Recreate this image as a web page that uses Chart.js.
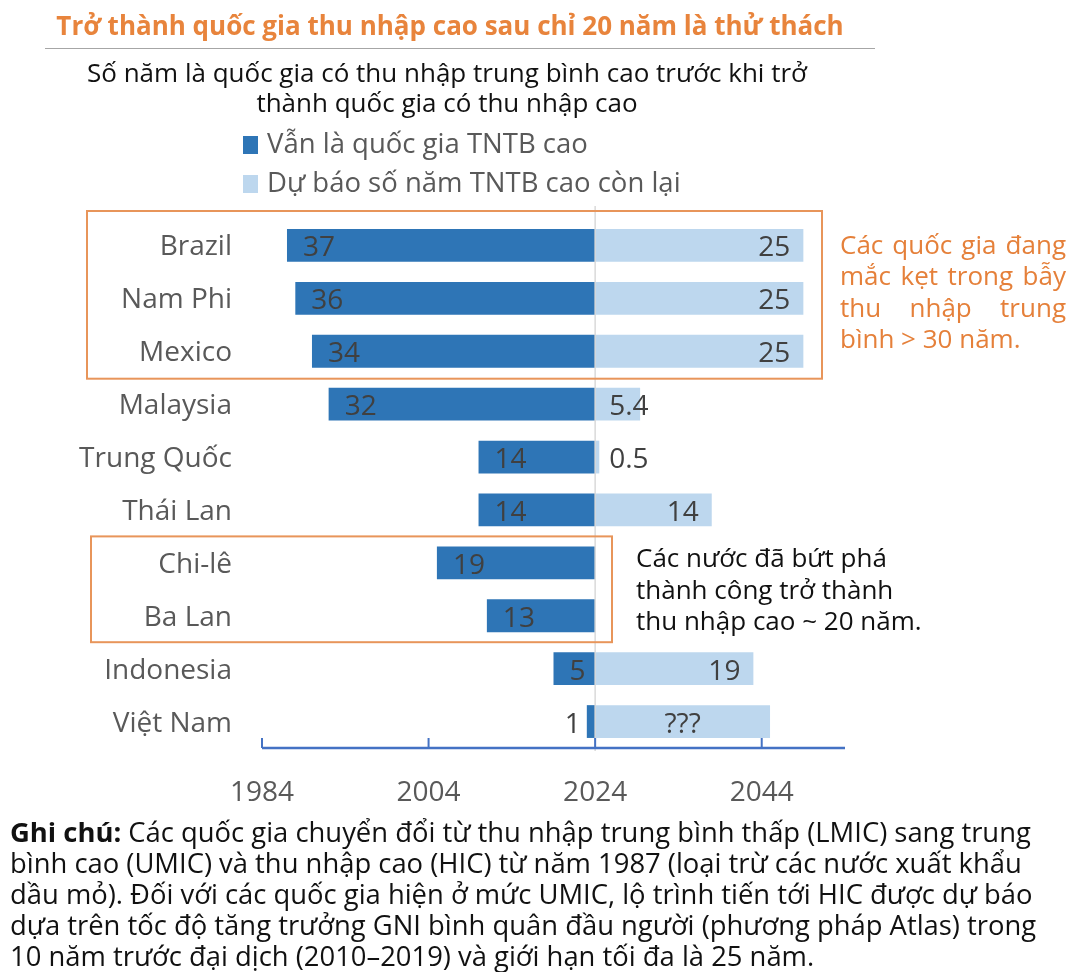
<!DOCTYPE html>
<html>
<head>
<meta charset="utf-8">
<script src="https://cdn.jsdelivr.net/npm/chart.js@4"></script>
<style>
body { margin:0; width:1082px; height:972px; background:#fff; position:relative; overflow:hidden; font-family:"Open Sans", sans-serif; }
#wrap { position:absolute; left:0; top:0; width:1082px; height:972px; }
.txt { position:absolute; white-space:nowrap; pointer-events:none; }
#title { left:0; top:7px; width:900px; text-align:center; font-weight:bold; font-size:26px; color:#E8843C; }
#rule { position:absolute; left:45px; top:48px; width:830px; height:1px; background:#a6a6a6; }
#sub { left:0; top:58px; width:894px; text-align:center; font-size:26px; line-height:29.5px; color:#111; }
#legend { left:243px; top:123px; font-size:27.5px; line-height:39px; color:#595959; }
#legend span.sw { display:inline-block; width:15px; height:18px; margin-right:9px; vertical-align:-1px; }
#ann1 { left:840px; top:229px; width:226px; font-size:26px; line-height:31.3px; color:#E5803A; }
#ann1 div { text-align:justify; text-align-last:justify; }
#ann1 div.last { text-align-last:left; }
#ann2 { left:636px; top:542px; font-size:26px; line-height:31.5px; color:#111; }
#note { left:10px; top:816px; font-size:27.4px; line-height:31px; color:#111; }
</style>
</head>
<body>
<div id="wrap"><canvas id="myChart"></canvas></div>
<div class="txt" id="title">Trở thành quốc gia thu nhập cao sau chỉ 20 năm là thử thách</div>
<div id="rule"></div>
<div class="txt" id="sub">Số năm là quốc gia có thu nhập trung bình cao trước khi trở<br>thành quốc gia có thu nhập cao</div>
<div class="txt" id="legend"></div>
<div class="txt" id="ann1"><div>Các quốc gia đang</div><div>mắc kẹt trong bẫy</div><div>thu nhập trung</div><div class="last">bình &gt; 30 năm.</div></div>
<div class="txt" id="ann2">Các nước đã bứt phá<br>thành công trở thành<br>thu nhập cao ~ 20 năm.</div>
<div class="txt" id="note"><b>Ghi chú:</b> Các quốc gia chuyển đổi từ thu nhập trung bình thấp (LMIC) sang trung<br>bình cao (UMIC) và thu nhập cao (HIC) từ năm 1987 (loại trừ các nước xuất khẩu<br>dầu mỏ). Đối với các quốc gia hiện ở mức UMIC, lộ trình tiến tới HIC được dự báo<br>dựa trên tốc độ tăng trưởng GNI bình quân đầu người (phương pháp Atlas) trong<br>10 năm trước đại dịch (2010–2019) và giới hạn tối đa là 25 năm.</div>
<script>
// data
var countries = ['Brazil', 'Nam Phi', 'Mexico', 'Malaysia', 'Trung Quốc', 'Thái Lan', 'Chi-lê', 'Ba Lan', 'Indonesia', 'Việt Nam']
var yearsUMIC = [37, 36, 34, 32, 14, 14, 19, 13, 5, 1]
var yearsLeft = [25, 25, 25, 5.4, 0.5, 14, 0, 0, 19, 21]
var leftLabels = ['25', '25', '25', '5.4', '0.5', '14', '', '', '19', '???']
var seriesNames = ['Vẫn là quốc gia TNTB cao', 'Dự báo số năm TNTB cao còn lại']
var seriesColors = ['#2E75B6', '#BDD7EE']
var baseYear = 2024
var tickYears = [1984, 2004, 2024, 2044]

var legendDiv = document.getElementById('legend')
legendDiv.innerHTML = seriesNames.map(function(n, i){
  return '<div><span class="sw" style="background:' + seriesColors[i] + '"></span>' + n + '</div>'
}).join('')

var FONT = '"Open Sans", sans-serif'

var decor = {
  id: 'decor',
  afterDatasetsDraw: function(chart){
    var ctx = chart.ctx
    var ca = chart.chartArea
    var x = chart.scales.x
    var row = (ca.bottom - ca.top) / countries.length
    ctx.save()
    // line at 2024
    var x0 = x.getPixelForValue(baseYear)
    ctx.strokeStyle = '#d9d9d9'
    ctx.lineWidth = 1.5
    ctx.beginPath(); ctx.moveTo(x0, ca.top - 13); ctx.lineTo(x0, ca.bottom + 3); ctx.stroke()
    // axis
    ctx.strokeStyle = '#4472C4'
    ctx.lineWidth = 2.5
    ctx.beginPath(); ctx.moveTo(ca.left, ca.bottom); ctx.lineTo(ca.right, ca.bottom); ctx.stroke()
    ctx.lineWidth = 2
    tickYears.forEach(function(t){
      var px = x.getPixelForValue(t)
      ctx.beginPath(); ctx.moveTo(px, ca.bottom - 10); ctx.lineTo(px, ca.bottom); ctx.stroke()
    })
    // labels
    ctx.font = '28px ' + FONT
    ctx.fillStyle = '#404040'
    ctx.textBaseline = 'middle'
    chart.getDatasetMeta(0).data.forEach(function(bar, i){
      var l = Math.min(bar.x, bar.base), r = Math.max(bar.x, bar.base)
      var s = String(yearsUMIC[i])
      var w = ctx.measureText(s).width
      if (r - l > w + 20) { ctx.textAlign = 'left'; ctx.fillText(s, l + 16, bar.y + 3) }
      else { ctx.textAlign = 'right'; ctx.fillText(s, l - 6, bar.y + 3) }
    })
    chart.getDatasetMeta(1).data.forEach(function(bar, i){
      var s = leftLabels[i]
      if (!s) return
      var l = Math.min(bar.x, bar.base), r = Math.max(bar.x, bar.base)
      var w = ctx.measureText(s).width
      if (isNaN(Number(s))) { ctx.textAlign = 'center'; ctx.fillText(s, (l + r) / 2, bar.y + 3) }
      else if (r - l > w + 30) { ctx.textAlign = 'right'; ctx.fillText(s, r - 13, bar.y + 3) }
      else { ctx.textAlign = 'left'; ctx.fillText(s, l + 14, bar.y + 3) }
    })
    // boxes
    ctx.strokeStyle = '#E8955A'
    ctx.lineWidth = 2
    ctx.strokeRect(87, ca.top - 8, 822 - 87, row * 3 + 9)
    ctx.strokeRect(91, ca.top + row * 6, 612 - 91, row * 2)
    ctx.restore()
  }
}

function drawChart(){
  var ctx = document.getElementById('myChart').getContext('2d')
  new Chart(ctx, {
    type: 'bar',
    data: {
      labels: countries,
      datasets: [{
        label: seriesNames[0],
        data: yearsUMIC.map(function(v){ return [baseYear - v, baseYear] }),
        backgroundColor: seriesColors[0],
        grouped: false,
        barPercentage: 0.62,
        categoryPercentage: 1
      }, {
        label: seriesNames[1],
        data: yearsLeft.map(function(v){ return [baseYear, baseYear + v] }),
        backgroundColor: seriesColors[1],
        grouped: false,
        barPercentage: 0.62,
        categoryPercentage: 1
      }]
    },
    options: {
      indexAxis: 'y',
      responsive: true,
      maintainAspectRatio: false,
      animation: false,
      layout: { padding: { left: 0, right: 237, top: 219, bottom: 0 } },
      plugins: { legend: { display: false }, tooltip: { enabled: false } },
      scales: {
        x: {
          min: 1984,
          max: 2054,
          afterBuildTicks: function(s){ s.ticks = tickYears.map(function(v){ return { value: v } }) },
          afterFit: function(s){ s.height = 224 },
          grid: { display: false },
          border: { display: false },
          ticks: {
            padding: 20,
            color: '#595959',
            font: { family: FONT, size: 28 },
            callback: function(v){ return String(v) }
          }
        },
        y: {
          afterFit: function(s){ s.width = 262 },
          grid: { display: false, drawTicks: false },
          border: { display: false },
          ticks: {
            padding: 30,
            labelOffset: 2,
            color: '#595959',
            font: { family: FONT, size: 28 }
          }
        }
      }
    },
    plugins: [decor]
  })
}

document.addEventListener('DOMContentLoaded', drawChart)
</script>
</body>
</html>
